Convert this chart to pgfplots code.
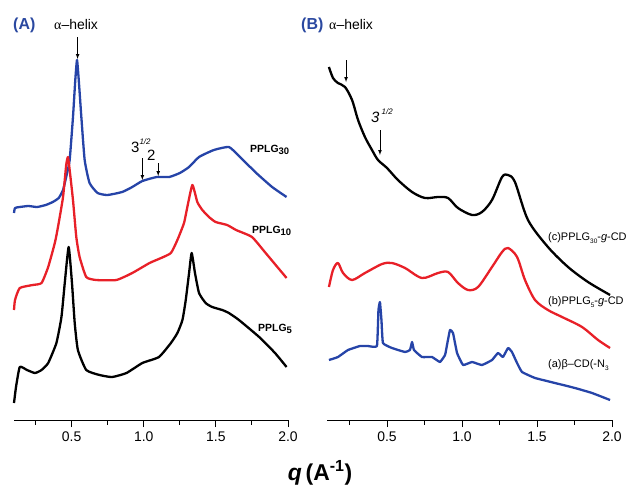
\documentclass[border=0pt]{standalone}
\usepackage{pgfplots}
\pgfplotsset{compat=1.18}
\usepackage{fontspec}
\setmainfont{Liberation Sans}
\newfontfamily\greekserif{Liberation Serif}
\definecolor{bl}{RGB}{38,68,168}
\definecolor{rd}{RGB}{232,32,40}
\definecolor{lb}{RGB}{42,72,160}
\newcommand{\fs}[1]{\fontsize{#1}{#1}\selectfont}
\pgfplotsset{
  panel/.style={
    scale only axis, width=274bp, height=420bp,
    xmin=0.1, xmax=2.0, ymin=0, ymax=420,
    axis x line*=bottom, axis y line=none, ytick=\empty,
    clip=false,
    xtick={0.5,1,1.5,2}, minor xtick={0.25,0.75,1.25,1.75},
    tick align=outside, major tick length=7bp, minor tick length=4.5bp,
    every tick/.style={black, line width=1bp},
    axis line style={line width=1bp},
    xticklabel style={font=\fs{14}, yshift=-1bp},
    /pgf/number format/.cd, fixed, fixed zerofill, precision=1, assume math mode=true
  },
  crv/.style={line width=2.3bp, line join=round}
}
\begin{document}
\begin{tikzpicture}
\path[use as bounding box] (0,0) rectangle (630bp,-490bp);
% ---------- Panel A ----------
\begin{axis}[panel, at={(14bp,-420bp)}, anchor=south west, width=274bp]
% PPLG30 (blue)
\addplot[crv, bl, smooth, tension=0.3] coordinates {
(0.100,207) (0.107,212) (0.140,213) (0.200,214) (0.260,213) (0.320,215) (0.369,218) (0.410,222)
(0.440,230) (0.465,245) (0.486,260) (0.509,303) (0.525,340) (0.537,360) (0.549,340) (0.567,303)
(0.590,260) (0.624,237) (0.680,227) (0.748,225) (0.850,228) (0.920,233) (0.990,239) (1.090,243)
(1.176,243) (1.250,247) (1.314,253) (1.383,263) (1.486,270) (1.590,273) (1.660,264) (1.780,247)
(1.890,233) (1.990,223)};
% PPLG10 (red)
\addplot[crv, rd, smooth, tension=0.3] coordinates {
(0.100,110) (0.107,120) (0.140,132) (0.230,135) (0.291,137) (0.337,153) (0.383,177) (0.405,193)
(0.440,223) (0.462,255) (0.474,263) (0.486,250) (0.509,220) (0.532,183) (0.555,163) (0.601,143)
(0.670,140) (0.810,140) (0.920,147) (1.040,157) (1.120,162) (1.188,167) (1.233,180) (1.279,197)
(1.302,213) (1.337,235) (1.371,218) (1.406,210) (1.452,203) (1.498,198) (1.578,195) (1.640,190)
(1.750,183) (1.845,167) (1.990,142)};
% PPLG5 (black)
\addplot[crv, black, smooth, tension=0.3] coordinates {
(0.100,17) (0.114,33) (0.140,53) (0.190,50) (0.245,47) (0.291,50) (0.337,57) (0.394,77)
(0.429,103) (0.452,137) (0.479,173) (0.502,137) (0.521,97) (0.543,70) (0.601,50) (0.693,45)
(0.780,43) (0.880,47) (0.990,57) (1.105,63) (1.188,77) (1.233,87) (1.268,100) (1.291,120)
(1.314,147) (1.332,167) (1.355,147) (1.383,127) (1.429,117) (1.474,113) (1.544,110) (1.590,107)
(1.660,100) (1.800,83) (1.910,67) (1.990,53)};
\draw[-latex, line width=0.7bp] (axis cs:0.541,383) -- (axis cs:0.541,361);
\draw[-latex, line width=0.7bp] (axis cs:0.99,262) -- (axis cs:0.99,240);
\draw[-latex, line width=0.7bp] (axis cs:1.10,257) -- (axis cs:1.10,244);
\end{axis}
% ---------- Panel B ----------
\begin{axis}[panel, at={(327bp,-420bp)}, anchor=south west, width=285bp]
% (c) black
\addplot[crv, black, smooth] coordinates {
(0.113,353) (0.140,342) (0.173,337) (0.220,333) (0.267,320) (0.307,300) (0.353,283)
(0.400,270) (0.440,260) (0.500,252) (0.573,240) (0.667,228) (0.753,222) (0.840,223)
(0.907,222) (0.973,212) (1.067,205) (1.133,208) (1.200,220) (1.267,243) (1.307,245)
(1.353,238) (1.440,200) (1.573,173) (1.707,153) (1.840,138) (1.987,125)};
% (b) red
\addplot[crv, rd, smooth] coordinates {
(0.113,133) (0.140,150) (0.173,157) (0.207,147) (0.267,140) (0.353,147) (0.467,156)
(0.533,157) (0.620,152) (0.733,142) (0.840,147) (0.907,148) (0.973,137) (1.040,130)
(1.107,133) (1.200,153) (1.267,168) (1.307,172) (1.367,163) (1.420,140) (1.487,120)
(1.573,110) (1.667,103) (1.800,93) (1.907,80) (1.987,72)};
% (a) blue
\addplot[crv, bl, smooth, tension=0.2] coordinates {
(0.113,60) (0.173,63) (0.240,70) (0.320,74) (0.373,74) (0.433,74) (0.443,110) (0.453,118)
(0.463,100) (0.473,77) (0.533,72) (0.620,68) (0.653,70) (0.667,78) (0.680,70) (0.733,63)
(0.800,63) (0.853,58) (0.887,65) (0.900,75) (0.920,90) (0.940,87) (0.967,67) (1.007,55)
(1.067,58) (1.133,55) (1.200,60) (1.240,67) (1.273,63) (1.307,72) (1.333,68) (1.367,57)
(1.400,48) (1.487,42) (1.620,37) (1.753,32) (1.867,27) (1.987,20)};
\draw[-latex, line width=0.7bp] (axis cs:0.227,360) -- (axis cs:0.227,338);
\draw[-latex, line width=0.7bp] (axis cs:0.453,290) -- (axis cs:0.453,265);
\end{axis}
% ---------- Annotations ----------
\node[anchor=west, text=lb, font=\fs{16}\bfseries, inner sep=0] at (13bp,-25bp) {(A)};
\node[anchor=west, font=\fs{14}, inner sep=0] at (54bp,-25bp) {{\greekserif α}–helix};
\node[anchor=west, text=lb, font=\fs{16}\bfseries, inner sep=0] at (301bp,-25bp) {(B)};
\node[anchor=west, font=\fs{14}, inner sep=0] at (329bp,-25bp) {{\greekserif α}–helix};
\node[anchor=base west, inner sep=0] at (131bp,-152bp) {\fs{15}3\raisebox{1.0ex}{\fs{8}\itshape 1/2}};
\node[anchor=base west, inner sep=0] at (147bp,-160bp) {\fs{15}2};
\node[anchor=base west, inner sep=0] at (371bp,-122bp) {\fs{15}\itshape 3\raisebox{1.0ex}{\fs{8} 1/2}};
\node[anchor=west, font=\fs{10.5}\bfseries, inner sep=0] at (250bp,-150bp) {PPLG\raisebox{-0.35ex}{\fs{9.5}30}};
\node[anchor=west, font=\fs{10.5}\bfseries, inner sep=0] at (252bp,-231bp) {PPLG\raisebox{-0.35ex}{\fs{9.5}10}};
\node[anchor=west, font=\fs{10.5}\bfseries, inner sep=0] at (258bp,-329bp) {PPLG\raisebox{-0.35ex}{\fs{9.5}5}};
\node[anchor=west, font=\fs{11}, inner sep=0] at (548bp,-238bp) {(c)PPLG\raisebox{-0.4ex}{\fs{6.5}30}-\textit{g}-CD};
\node[anchor=west, font=\fs{11}, inner sep=0] at (548bp,-302bp) {(b)PPLG\raisebox{-0.4ex}{\fs{6.5}5}-\textit{g}-CD};
\node[anchor=west, font=\fs{11}, inner sep=0] at (548bp,-365bp) {(a)β–CD(-N\raisebox{-0.4ex}{\fs{6.5}3}};
\node[font=\fs{23}\bfseries, inner sep=0] at (320bp,-473bp) {\textit{q}\,(A\textsuperscript{-1})};
\end{tikzpicture}
\end{document}
